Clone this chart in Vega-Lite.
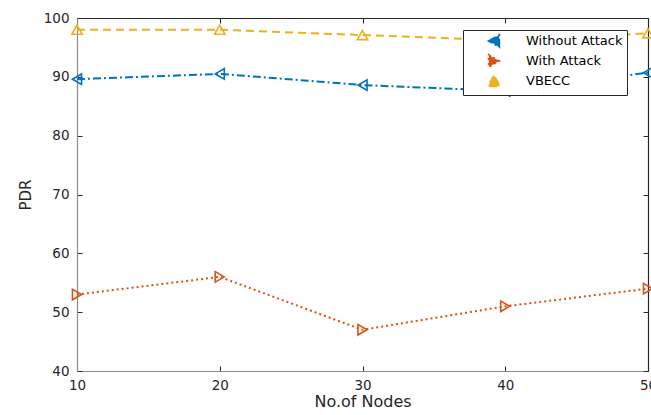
{
  "$schema": "https://vega.github.io/schema/vega-lite/v6.json",
  "width": 571,
  "height": 353,
  "autosize": {"type": "none"},
  "padding": {"left": 77, "top": 18, "right": 3, "bottom": 44},
  "background": "white",
  "config": {
    "view": {"stroke": null},
    "font": "DejaVu Sans",
    "axis": {
      "grid": false,
      "labelFont": "DejaVu Sans",
      "labelFontSize": 13.5,
      "labelColor": "#262626",
      "labelFlush": false,
      "titleFont": "DejaVu Sans",
      "titleFontSize": 16,
      "titleFontWeight": "normal",
      "titleColor": "#262626",
      "tickColor": "#262626",
      "tickSize": -5,
      "tickWidth": 1,
      "domainWidth": 1.2
    }
  },
  "data": {
    "values": [
      {"x": 10, "y": 89.6, "series": "Without Attack"},
      {"x": 20, "y": 90.5, "series": "Without Attack"},
      {"x": 30, "y": 88.6, "series": "Without Attack"},
      {"x": 40, "y": 87.6, "series": "Without Attack"},
      {"x": 50, "y": 90.7, "series": "Without Attack"},
      {"x": 10, "y": 53, "series": "With Attack"},
      {"x": 20, "y": 56, "series": "With Attack"},
      {"x": 30, "y": 47, "series": "With Attack"},
      {"x": 40, "y": 51, "series": "With Attack"},
      {"x": 50, "y": 54, "series": "With Attack"},
      {"x": 10, "y": 98, "series": "VBECC"},
      {"x": 20, "y": 98, "series": "VBECC"},
      {"x": 30, "y": 97.1, "series": "VBECC"},
      {"x": 40, "y": 96.2, "series": "VBECC"},
      {"x": 50, "y": 97.4, "series": "VBECC"}
    ]
  },
  "layer": [
    {
      "mark": {"type": "line", "strokeWidth": 2},
      "encoding": {
        "x": {
          "field": "x", "type": "quantitative",
          "scale": {"domain": [10, 50], "nice": false},
          "axis": {"orient": "bottom", "values": [10, 20, 30, 40, 50], "title": "No.of Nodes", "labelPadding": 12, "titlePadding": 2, "domainColor": "#8c8c8c"}
        },
        "y": {
          "field": "y", "type": "quantitative",
          "scale": {"domain": [40, 100], "nice": false, "zero": false},
          "axis": {"orient": "left", "values": [40, 50, 60, 70, 80, 90, 100], "title": "PDR", "titleFontSize": 15, "labelPadding": 13, "titlePadding": 10, "domainColor": "#8c8c8c"}
        },
        "color": {
          "field": "series", "type": "nominal",
          "scale": {"domain": ["Without Attack", "With Attack", "VBECC"], "range": ["#0072BD", "#D95319", "#EDB120"]},
          "legend": {
            "title": null,
            "orient": "none",
            "legendX": 386,
            "legendY": 12,
            "strokeColor": "#262626",
            "fillColor": "white",
            "padding": 4,
            "rowPadding": 0,
            "labelFont": "DejaVu Sans",
            "labelFontSize": 13,
            "labelColor": "#000000",
            "symbolSize": 144,
            "symbolOffset": 20,
            "labelOffset": 25,
            "symbolStrokeWidth": 2,
            "encode": {
              "symbols": {
                "update": {
                  "stroke": {"scale": "color", "field": "value"},
                  "fill": {"scale": "color", "field": "value"},
                  "fillOpacity": {"value": 1},
                  "strokeWidth": {"value": 2},
                  "opacity": {"value": 1}
                }
              }
            }
          }
        },
        "strokeDash": {
          "field": "series", "type": "nominal",
          "scale": {"domain": ["Without Attack", "With Attack", "VBECC"], "range": [[8, 3, 2, 3], [2, 3], [8, 5]]},
          "legend": null
        }
      }
    },
    {
      "mark": {"type": "point", "filled": false, "size": 110, "strokeWidth": 1.6, "opacity": 1},
      "encoding": {
        "x": {
          "field": "x", "type": "quantitative",
          "scale": {"domain": [10, 50], "nice": false},
          "axis": {"orient": "top", "values": [10, 20, 30, 40, 50], "labels": false, "title": null, "domainColor": "#262626"}
        },
        "y": {
          "field": "y", "type": "quantitative",
          "scale": {"domain": [40, 100], "nice": false, "zero": false},
          "axis": {"orient": "right", "values": [40, 50, 60, 70, 80, 90, 100], "labels": false, "title": null, "domainColor": "#262626"}
        },
        "color": {"field": "series", "type": "nominal", "scale": {"domain": ["Without Attack", "With Attack", "VBECC"], "range": ["#0072BD", "#D95319", "#EDB120"]}},
        "shape": {
          "field": "series", "type": "nominal",
          "scale": {"domain": ["Without Attack", "With Attack", "VBECC"], "range": ["triangle-left", "triangle-right", "triangle-up"]},
          "legend": null
        }
      }
    }
  ],
  "resolve": {"axis": {"x": "independent", "y": "independent"}}
}
